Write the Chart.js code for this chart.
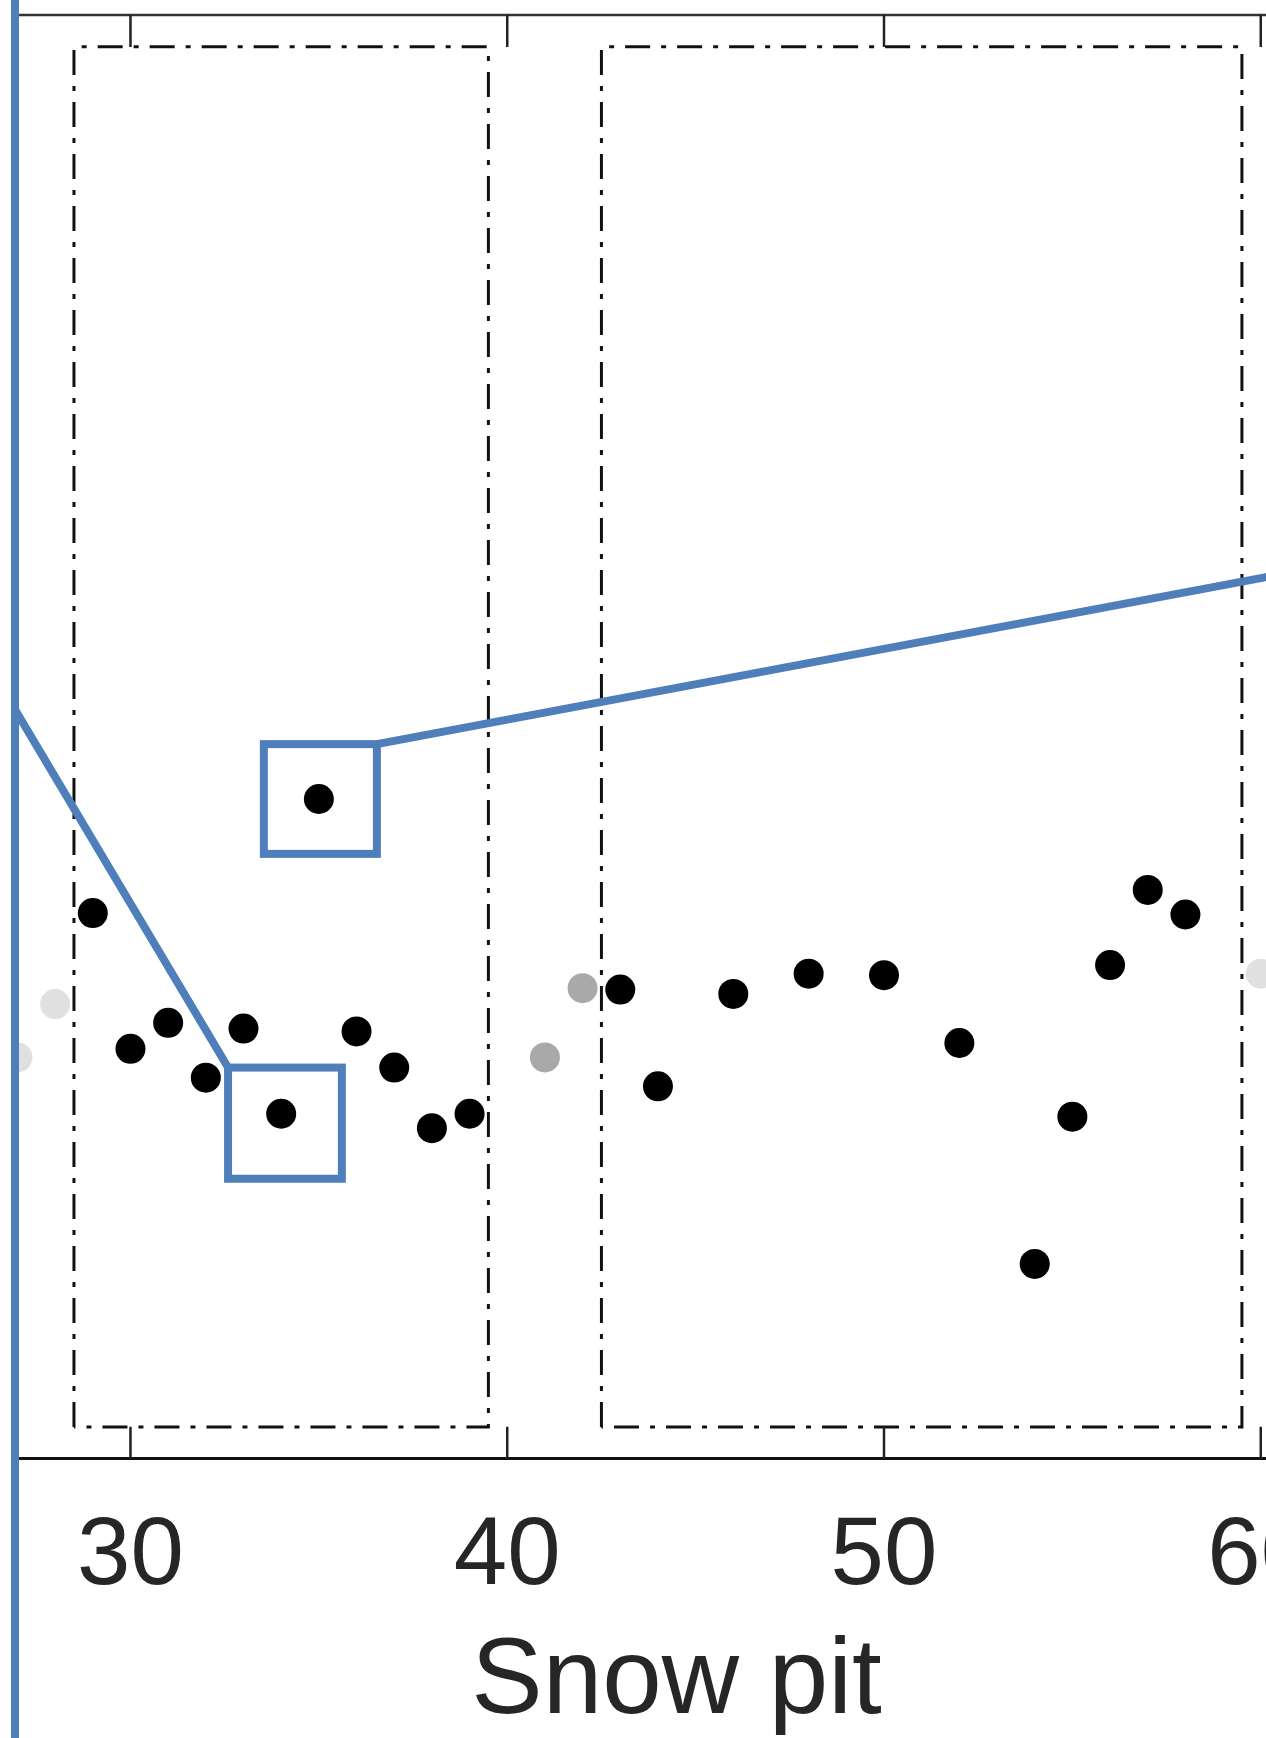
<!DOCTYPE html>
<html>
<head>
<meta charset="utf-8">
<script src="https://cdn.jsdelivr.net/npm/chart.js@4.4.0/dist/chart.umd.min.js"></script>
<style>
  html, body { margin: 0; padding: 0; background: #fff; overflow: hidden; width: 1266px; height: 1738px; }
  #wrap { position: absolute; left: 0; top: 0; width: 1400px; height: 1738px; }
</style>
</head>
<body>
<div id="wrap"><canvas id="myChart" width="1400" height="1738"></canvas></div>
<script>
// valores (pozos de nieve)
const pitsBlack = [29, 30, 31, 32, 33, 34, 35, 36, 37, 38, 39, 43, 44, 46, 48, 50, 52, 54, 55, 56, 57, 58];
const valuesBlack = [37.8, 28.4, 30.2, 26.4, 29.8, 23.9, 45.7, 29.6, 27.1, 22.9, 23.9, 32.5, 25.8, 32.2, 33.6, 33.5, 28.8, 13.5, 23.7, 34.2, 39.4, 37.7];
const pitsMidGray = [41, 42];
const valuesMidGray = [27.8, 32.6];
const pitsLightGray = [27, 28, 60];
const valuesLightGray = [27.8, 31.5, 33.6];
const xTicks = [30, 40, 50, 60];

// rangos de los dos recuadros punteados
const groupA = [28.5, 39.5];
const groupB = [42.5, 59.5];
const groupLow = 2.2;
const groupHigh = 97.8;

const FONT = "'Liberation Sans', Arial, Helvetica, sans-serif";
const BLUE = '#4e7fbb';

function toPoints(xs, ys) {
    return xs.map((x, i) => ({ x: x, y: ys[i] }));
}

function outline(r) {
    return [
        { x: r[0], y: groupLow }, { x: r[0], y: groupHigh },
        { x: r[1], y: groupHigh }, { x: r[1], y: groupLow },
        { x: r[0], y: groupLow }
    ];
}

// marco superior y ticks hacia adentro
const framePlugin = {
    id: 'frame',
    afterDatasetsDraw(chart) {
        const ctx = chart.ctx;
        const area = chart.chartArea;
        const xs = chart.scales.x;
        ctx.save();
        ctx.strokeStyle = '#333';
        ctx.lineWidth = 2.5;
        ctx.beginPath();
        ctx.moveTo(area.left, area.top);
        ctx.lineTo(area.right, area.top);
        ctx.stroke();
        ctx.strokeStyle = '#222';
        for (const t of xTicks) {
            const px = xs.getPixelForValue(t);
            ctx.beginPath();
            ctx.moveTo(px, area.top);
            ctx.lineTo(px, area.top + 32);
            ctx.moveTo(px, area.bottom);
            ctx.lineTo(px, area.bottom - 32);
            ctx.stroke();
        }
        ctx.restore();
    }
};

// recuadros azules del zoom
const zoomPlugin = {
    id: 'zoomBoxes',
    afterDraw(chart) {
        const ctx = chart.ctx;
        const xs = chart.scales.x;
        const ys = chart.scales.y;
        const px = v => xs.getPixelForValue(v);
        const py = v => ys.getPixelForValue(v);
        const box1 = { x0: 33.54, x1: 36.54, y0: 41.9, y1: 49.5 };
        const box2 = { x0: 32.59, x1: 35.61, y0: 19.4, y1: 27.1 };
        ctx.save();
        ctx.strokeStyle = BLUE;
        ctx.lineWidth = 8;
        ctx.lineJoin = 'miter';
        for (const b of [box1, box2]) {
            ctx.strokeRect(px(b.x0), py(b.y1), px(b.x1) - px(b.x0), py(b.y0) - py(b.y1));
        }
        ctx.beginPath();
        ctx.moveTo(px(box1.x1), py(box1.y1));
        ctx.lineTo(px(xs.max), py(62));
        ctx.moveTo(px(box2.x0), py(box2.y1));
        ctx.lineTo(px(xs.min), py(51.9));
        ctx.stroke();
        ctx.beginPath();
        ctx.moveTo(px(xs.min), 0);
        ctx.lineTo(px(xs.min), chart.height);
        ctx.stroke();
        ctx.restore();
    }
};

const grafica = document.getElementById('myChart').getContext('2d');

const myChart = new Chart(grafica, {
    type: 'scatter',
    data: {
        datasets: [
            {
                label: 'groups',
                data: outline(groupA),
                showLine: true,
                borderColor: '#111',
                borderWidth: 3,
                borderDash: [25, 11, 5, 11],
                pointRadius: 0,
                clip: 0,
                order: 5
            },
            {
                label: 'groups2',
                data: outline(groupB),
                showLine: true,
                borderColor: '#111',
                borderWidth: 3,
                borderDash: [25, 11, 5, 11],
                pointRadius: 0,
                clip: 0,
                order: 4
            },
            {
                label: 'light',
                data: toPoints(pitsLightGray, valuesLightGray),
                backgroundColor: '#e0e0e0',
                pointRadius: 15,
                pointBorderWidth: 0,
                clip: 0,
                order: 3
            },
            {
                label: 'mid',
                data: toPoints(pitsMidGray, valuesMidGray),
                backgroundColor: '#a9a9a9',
                pointRadius: 15,
                pointBorderWidth: 0,
                clip: 0,
                order: 2
            },
            {
                label: 'pits',
                data: toPoints(pitsBlack, valuesBlack),
                backgroundColor: '#000',
                pointRadius: 15,
                pointBorderWidth: 0,
                clip: 0,
                order: 1
            }
        ]
    },
    options: {
        responsive: false,
        animation: false,
        devicePixelRatio: 1,
        layout: {
            padding: { left: 15, right: 62, top: 11, bottom: 28 }
        },
        plugins: {
            legend: { display: false },
            tooltip: { enabled: false }
        },
        scales: {
            x: {
                type: 'linear',
                position: 'bottom',
                min: 26.935,
                max: 62.05,
                afterBuildTicks: scale => {
                    scale.ticks = xTicks.map(v => ({ value: v }));
                },
                grid: { display: false, drawTicks: false, tickLength: 0 },
                border: { display: true, color: '#111', width: 3 },
                ticks: {
                    color: '#262626',
                    padding: 41.5,
                    maxRotation: 0,
                    font: { family: FONT, size: 96 }
                },
                title: {
                    display: true,
                    text: 'Snow pit',
                    color: '#262626',
                    padding: { top: 0, bottom: 0 },
                    font: { family: FONT, size: 107, lineHeight: 0.495 }
                }
            },
            y: {
                display: false,
                min: 0,
                max: 100
            }
        }
    },
    plugins: [framePlugin, zoomPlugin]
});
</script>
</body>
</html>
